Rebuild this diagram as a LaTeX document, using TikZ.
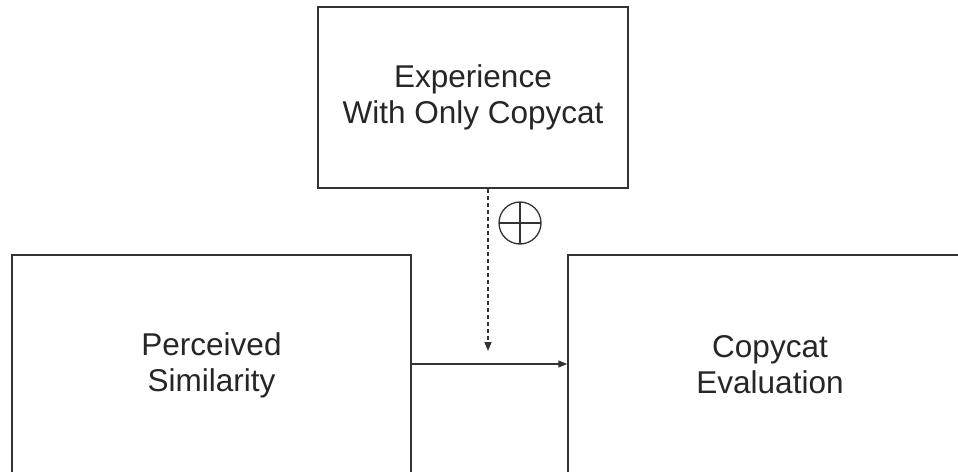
\documentclass[tikz,border=0pt]{standalone}
\usepackage{fontspec}
\setmainfont{Liberation Sans}
\usetikzlibrary{arrows.meta}
\begin{document}
\begin{tikzpicture}[x=1pt,y=1pt,
  box/.style={draw=black!80, line width=1.5pt, rectangle, align=center,
    font=\fontsize{31.5}{36}\selectfont, text=black!85, inner sep=0pt},
  conn/.style={draw=black!80, line width=1.3pt, -{Triangle[length=9pt,width=7pt]}},
  dashconn/.style={conn, dash pattern=on 4pt off 3pt}
]
\clip (0,0) rectangle (958,-471);
\fill[white] (0,0) rectangle (958,-471);
\node[box, minimum width=310pt, minimum height=181pt] (exp) at (473,-97.5)
  {Experience\\With Only Copycat};
\node[box, minimum width=399pt, minimum height=220pt] (ps) at (211.5,-365)
  {Perceived\\Similarity};
\node[box, minimum width=404pt, minimum height=220pt] (ce) at (770,-365)
  {Copycat\\Evaluation};
\coordinate (dend) at (488,-351);
\node[draw=black!80, line width=1.3pt, circle, minimum size=42pt, inner sep=0pt,
  path picture={
    \draw[black!80, line width=1.3pt] (path picture bounding box.north) -- (path picture bounding box.south);
    \draw[black!80, line width=1.3pt] (path picture bounding box.west) -- (path picture bounding box.east);
  }] (plus) at (520,-223) {};
\draw[conn] ([yshift=1pt]ps.east) -- ([yshift=1pt]ps.east -| ce.west);
\draw[dashconn] (exp.south -| dend) -- (dend);
\end{tikzpicture}
\end{document}
